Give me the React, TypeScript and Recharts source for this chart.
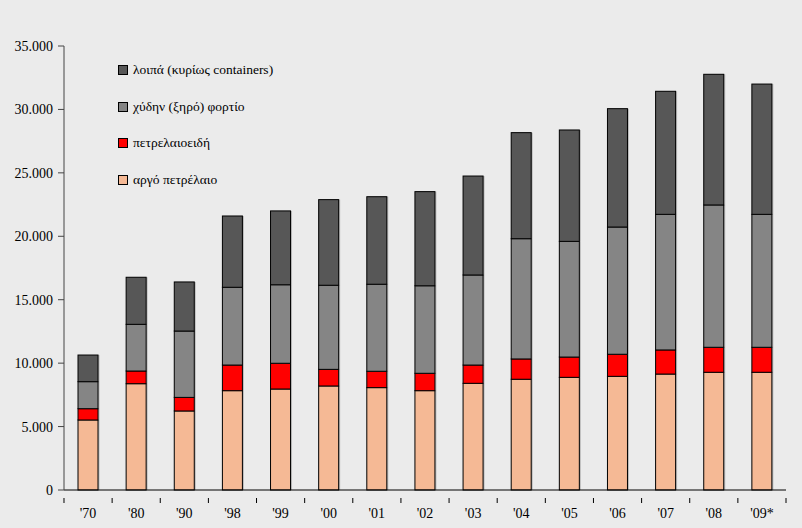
import { BarChart, Bar, XAxis, YAxis, Legend } from "recharts";

const years = ["'70", "'80", "'90", "'98", "'99", "'00", "'01", "'02", "'03", "'04", "'05", "'06", "'07", "'08", "'09*"];
const crudeOil = [5520, 8380, 6230, 7830, 7960, 8200, 8070, 7830, 8410, 8730, 8880, 8960, 9140, 9280, 9280];
const oilProducts = [890, 1000, 1070, 2020, 2030, 1310, 1290, 1370, 1440, 1600, 1600, 1740, 1900, 1970, 1970];
const dryBulk = [2130, 3680, 5230, 6130, 6190, 6630, 6860, 6900, 7100, 9480, 9120, 10030, 10690, 11220, 10480];
const other = [2100, 3710, 3870, 5620, 5820, 6750, 6900, 7420, 7800, 8360, 8780, 9330, 9700, 10300, 10270];
const yTicks = [0, 5000, 10000, 15000, 20000, 25000, 30000, 35000];

const data = years.map((year, i) => ({
  year,
  crude: crudeOil[i],
  products: oilProducts[i],
  bulk: dryBulk[i],
  other: other[i],
}));

const series = [
  { key: "other", name: "λοιπά (κυρίως containers)", color: "#575757" },
  { key: "bulk", name: "χύδην (ξηρό) φορτίο", color: "#858585" },
  { key: "products", name: "πετρελαιοειδή", color: "#ff0000" },
  { key: "crude", name: "αργό πετρέλαιο", color: "#f5b995" },
];

const font = "'Liberation Serif', 'Times New Roman', serif";

function fmt(v: number) {
  return v === 0 ? "0" : v.toLocaleString("de-DE");
}

function YearTick(props: any) {
  const { x, y, payload, index } = props;
  const half = 24.07;
  return (
    <g>
      <line x1={x - half} y1={y} x2={x - half} y2={y + 5} stroke="#000" />
      {index === years.length - 1 && (
        <line x1={x + half} y1={y} x2={x + half} y2={y + 5} stroke="#000" />
      )}
      <text x={x} y={y + 20} textAnchor="middle" fontSize={14} fontFamily={font} fill="#000">
        {payload.value}
      </text>
    </g>
  );
}

// excel-style bar with a soft grey shadow on the right
function ShadowBar(props: any) {
  const { x, y, width, height, fill } = props;
  if (!height || height <= 0) return null;
  return (
    <g>
      <rect x={x + 1.5} y={y} width={width} height={height} fill="#9a9a9a" opacity={0.6} />
      <rect x={x} y={y} width={width} height={height} fill={fill} stroke="#000" strokeWidth={1} />
    </g>
  );
}

function LegendBox() {
  return (
    <div style={{ fontFamily: font, fontSize: 13.5, color: "#000" }}>
      {series.map((s) => (
        <div key={s.key} style={{ display: "flex", alignItems: "center", height: 36.5 }}>
          <span
            style={{
              display: "inline-block",
              width: 8,
              height: 8,
              background: s.color,
              border: "1px solid #000",
              marginRight: 5,
            }}
          />
          {s.name}
        </div>
      ))}
    </div>
  );
}

export default function App() {
  return (
    <div style={{ position: "absolute", left: 0, top: 0, width: 802, height: 528, background: "#ebebeb" }}>
      <BarChart
        width={802}
        height={528}
        data={data}
        margin={{ top: 46, right: 16, left: 0, bottom: 8 }}
        barSize={20}
        style={{ fontFamily: font }}
      >
        <XAxis
          dataKey="year"
          axisLine={{ stroke: "#000" }}
          tickLine={false}
          tick={<YearTick />}
          height={30}
          interval={0}
        />
        <XAxis xAxisId="top" dataKey="year" orientation="top" height={0} tick={false} tickLine={false} axisLine={{ stroke: "#7a7a7a" }} />
        <YAxis
          domain={[0, 35000]}
          ticks={yTicks}
          tickFormatter={fmt}
          width={64}
          tickSize={6}
          tickMargin={5}
          axisLine={{ stroke: "#444" }}
          tickLine={{ stroke: "#444" }}
          tick={{ fill: "#000", fontSize: 14, fontFamily: font }}
          interval={0}
        />
        <YAxis yAxisId="right" orientation="right" width={0} tick={false} tickLine={false} axisLine={{ stroke: "#9a9a9a" }} />
        <Legend
          layout="vertical"
          align="center"
          verticalAlign="middle"
          content={<LegendBox />}
          wrapperStyle={{ left: 118, top: 52, width: 250 }}
        />
        {[...series].reverse().map((s) => (
          <Bar
            key={s.key}
            dataKey={s.key}
            name={s.name}
            stackId="a"
            fill={s.color}
            shape={<ShadowBar />}
            isAnimationActive={false}
          />
        ))}
      </BarChart>
    </div>
  );
}
